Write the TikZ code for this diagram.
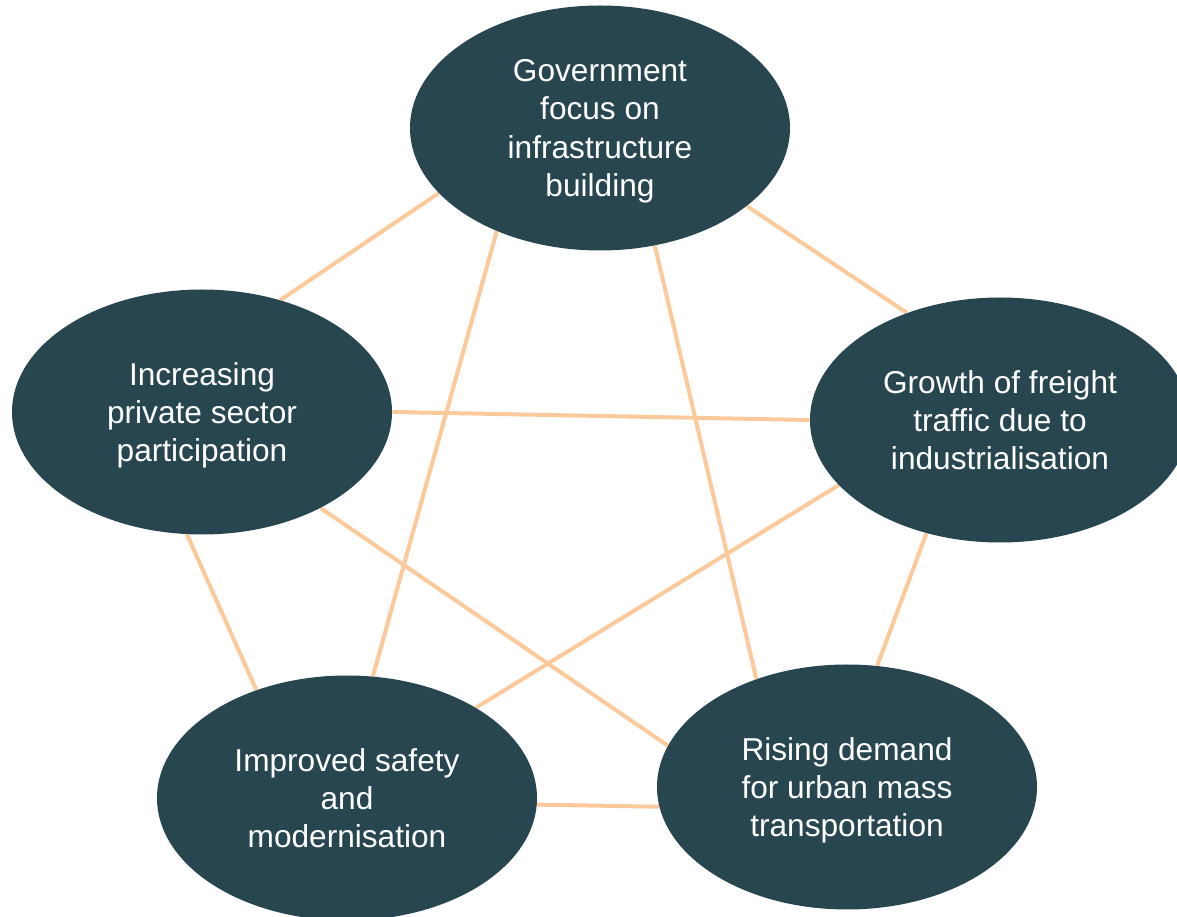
\documentclass[tikz,border=0pt]{standalone}
\usepackage{fontspec}
\setmainfont{Liberation Sans}
\usepackage{xcolor}
\usepackage{tikz}
\usetikzlibrary{shapes.geometric, backgrounds}
\definecolor{driverfill}{HTML}{27464F}
\definecolor{linkline}{HTML}{FBC99A}

\begin{document}
\begin{tikzpicture}[
  every node/.style={font=\fontsize{18}{21.8}\selectfont},
  driver/.style={ellipse, fill=driverfill, text=white, inner sep=0pt,
                 minimum width=7.6cm, minimum height=4.9cm, align=center,
                 text depth=0pt},
  link/.style={draw=linkline, line width=0.08cm},
]
\useasboundingbox (0,0) rectangle (23.54,-18.34);

% --- the five drivers
\node[driver] (gov)  at (12.00, -2.56) {Government\\focus on\\infrastructure\\building};
\node[driver] (priv) at ( 4.04, -8.24) {Increasing\\private sector\\participation};
\node[driver] (frt)  at (20.00, -8.40) {Growth of freight\\traffic due to\\industrialisation};
\node[driver] (safe) at ( 6.94,-15.96) {Improved safety\\and\\modernisation};
\node[driver] (urb)  at (16.94,-15.74) {Rising demand\\for urban mass\\transportation};

% --- links between every pair (behind the ellipses)
\begin{scope}[on background layer]
\draw[link] (gov.202) -- (priv.55);
\draw[link] (gov.332) -- (frt.131);
\draw[link] (gov.225) -- (safe.78);
\draw[link] (gov.295) -- (urb.130);
\draw[link] (priv.0)   -- (frt.180);
\draw[link] (priv.263) -- (safe.130);
\draw[link] (priv.321) -- (urb.167);
\draw[link] (frt.202)  -- (safe.35);
\draw[link] (frt.237)  -- (urb.76);
\draw[link] (safe.358) -- (urb.186);
\end{scope}
\end{tikzpicture}
\end{document}
